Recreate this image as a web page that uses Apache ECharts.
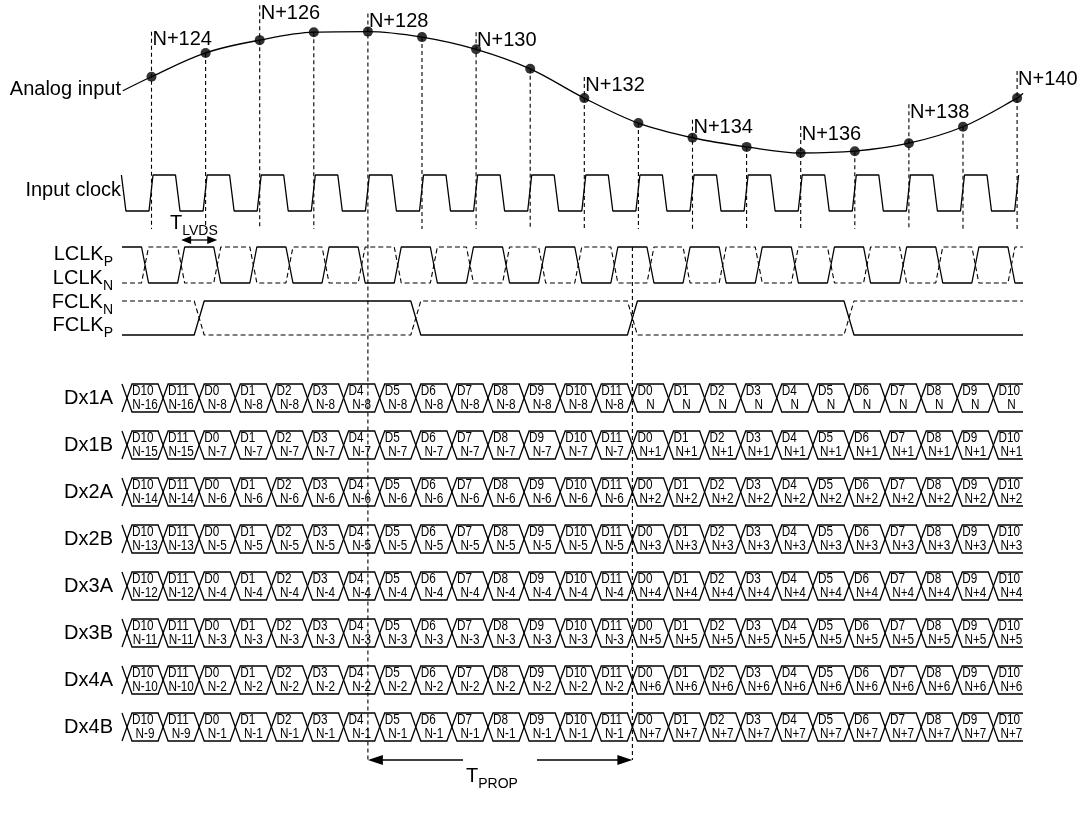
<!DOCTYPE html>
<html><head><meta charset="utf-8"><title>ADC LVDS timing</title>
<script src="https://cdn.jsdelivr.net/npm/echarts@6.0.0/dist/echarts.min.js"></script>
<style>html,body{margin:0;padding:0;background:#fff;}#chart{width:1080px;height:814px;}</style>
</head><body><div id="chart"></div>
<script>
// ================= DATA =================
// analog input amplitude at each sampling instant (N+124 ... N+140), normalised units
const analogSamples = [0.25, 0.64, 0.85, 0.98, 0.99, 0.90, 0.70, 0.38, -0.10, -0.51, -0.75, -0.90, -1.00, -0.97, -0.84, -0.57, -0.10];
// curve lead-in (from the "Analog input" label) and lead-out: [time in sample periods, amplitude]
const analogLeadIn = [-0.53, 0.02];
const analogLeadOut = [16.11, -0.02];
// tags written above every second sample
const sampleTags = ['N+124', 'N+126', 'N+128', 'N+130', 'N+132', 'N+134', 'N+136', 'N+138', 'N+140'];
// serial data lanes
const laneNames = ['Dx1A', 'Dx1B', 'Dx2A', 'Dx2B', 'Dx3A', 'Dx3B', 'Dx4A', 'Dx4B'];
// bit carried in every serial bit slot
const bitNames = ['D10', 'D11', 'D0', 'D1', 'D2', 'D3', 'D4', 'D5', 'D6', 'D7', 'D8', 'D9', 'D10', 'D11',
                  'D0', 'D1', 'D2', 'D3', 'D4', 'D5', 'D6', 'D7', 'D8', 'D9', 'D10'];
// which frame (column of laneFrameSamples) each bit slot belongs to
const bitFrame = [0, 0, 1, 1, 1, 1, 1, 1, 1, 1, 1, 1, 1, 1, 2, 2, 2, 2, 2, 2, 2, 2, 2, 2, 2];
// sample carried by each lane in each frame
const laneFrameSamples = [
  ['N-16', 'N-8', 'N'], ['N-15', 'N-7', 'N+1'], ['N-14', 'N-6', 'N+2'], ['N-13', 'N-5', 'N+3'],
  ['N-12', 'N-4', 'N+4'], ['N-11', 'N-3', 'N+5'], ['N-10', 'N-2', 'N+6'], ['N-9', 'N-1', 'N+7']
];
// frame clock toggles at these bit-slot boundaries
const fclkToggleBits = [2, 8, 14, 20];
// T_PROP: from sample index to bit-slot boundary ; T_LVDS: between LCLK edges
const tpropFromSample = 4, tpropToBit = 14;
const tlvdsEdges = [1, 2];

// ================= LAYOUT (pixels) =================
const L = {
  x0: 151.5, period: 54.1,            // pixel of sample 0, pixels per sample period
  analogZeroPx: 92, analogUnitPx: 61,
  labelRight1: 121, labelRight2: 113,
  rowStart: 122, rowEnd: 1023,
  bitStart: 127, bitPx: 36.1, slope: 5, lclkSlope: 3.5,
  clkH: 175, clkL: 211, guideBottom: 229,
  lclkH: 247, lclkL: 283, fclkH: 301, fclkL: 335,
  laneTop: 374.5, laneGap: 47, cellHalf: 14,
  tlvdsY: 240, tpropY: 760, tpropGap: [463, 537],
  tagLift: [37, 27, 10, 9, 13, 10, 19, 31, 19],
  labelY: { analog: 89, clock: 190, lclkP: 254, lclkN: 278, fclkN: 302, fclkP: 325 }
};
const FONT = '"Liberation Sans", Arial, Helvetica, sans-serif';
const LW = 1.3;
const CELL = { size: 14, scaleX: 0.84 };

const mctx = document.createElement('canvas').getContext('2d');
function tw(text, size, fam) { mctx.font = size + 'px ' + fam; return mctx.measureText(text).width; }

const px2t = px => (px - L.x0) / L.period;
const dt = px => px / L.period;
const T_MIN = px2t(0), T_MAX = px2t(1080);
const bitT = L.bitPx / L.period;
const crossT = k => px2t(L.bitStart) + k * bitT;
const lclkEdgeT = k => crossT(k) + bitT / 2;
const A_MAX = L.analogZeroPx / L.analogUnitPx;
const A_MIN = (L.analogZeroPx - 814) / L.analogUnitPx;
const pxToAmp = y => (L.analogZeroPx - y) / L.analogUnitPx;

// ---- waveforms built from timing ----
const clockPts = [[-1 + dt(24), L.clkH], [-1 + dt(28.5), L.clkL]];
for (let i = 0; i < analogSamples.length; i++) {
  clockPts.push([i - dt(2.5), L.clkL], [i + dt(1.5), L.clkH]);
  if (i < analogSamples.length - 1) clockPts.push([i + dt(24), L.clkH], [i + dt(28.5), L.clkL]);
}
function lclk(startHigh) {
  let high = startHigh;
  const lv = h => h ? L.lclkH : L.lclkL;
  const pts = [[px2t(L.rowStart), lv(high)]];
  for (let k = 0; k < bitNames.length; k++) {
    const e = lclkEdgeT(k);
    if (e > px2t(L.rowEnd)) break;
    pts.push([e - dt(L.lclkSlope), lv(high)]); high = !high; pts.push([e + dt(L.lclkSlope), lv(high)]);
  }
  pts.push([px2t(L.rowEnd), lv(high)]);
  return pts;
}
function fclk(startHigh) {
  let high = startHigh;
  const lv = h => h ? L.fclkH : L.fclkL;
  const pts = [[px2t(L.rowStart), lv(high)]];
  fclkToggleBits.forEach(k => {
    const e = crossT(k);
    pts.push([e - dt(L.slope), lv(high)]); high = !high; pts.push([e + dt(L.slope), lv(high)]);
  });
  pts.push([px2t(L.rowEnd), lv(high)]);
  return pts;
}

const cellData = [];
for (let l = 0; l < laneNames.length; l++) for (let k = 0; k < bitNames.length; k++) cellData.push([k, l]);

const black = '#000';
function textEl(text, x, y, size, align) {
  return { type: 'text', style: { text: text, x: x, y: y, fill: black, fontSize: size, fontFamily: FONT, align: align, verticalAlign: 'middle' } };
}
function cellText(text, x, y, align) {
  return { type: 'text', x: x, y: y, scaleX: CELL.scaleX,
    style: { text: text, x: 0, y: 0, fill: black, fontSize: CELL.size, fontFamily: FONT, align: align, verticalAlign: 'middle' } };
}
function subText(x, y, main, sub, rightAligned) {
  const ws = tw(sub, 14, FONT), wm = tw(main, 20, FONT);
  if (rightAligned) return [textEl(main, x - ws, y, 20, 'right'), textEl(sub, x - ws, y + 8, 14, 'left')];
  return [textEl(main, x, y, 20, 'left'), textEl(sub, x + wm, y + 8, 14, 'left')];
}
function arrowHead(tipX, y, dir, len, half) {
  return { type: 'polygon', shape: { points: [[tipX, y], [tipX + dir * len, y - half], [tipX + dir * len, y + half]] }, style: { fill: black } };
}
const lineStyleEl = { stroke: black, lineWidth: LW, fill: 'none' };

const chart = echarts.init(document.getElementById('chart'), null, { renderer: 'canvas', width: 1080, height: 814 });

const option = {
  animation: false,
  backgroundColor: '#fff',
  grid: [
    { left: 0, right: 0, top: 0, bottom: 0, containLabel: false, outerBoundsMode: 'none' },
    { left: 0, right: 0, top: L.laneTop, height: L.laneGap * laneNames.length, containLabel: false, outerBoundsMode: 'none' }
  ],
  xAxis: [
    { type: 'value', gridIndex: 0, min: T_MIN, max: T_MAX, show: false },
    { type: 'value', gridIndex: 1, min: T_MIN, max: T_MAX, show: false }
  ],
  yAxis: [
    { type: 'value', gridIndex: 0, min: A_MIN, max: A_MAX, show: false },
    { type: 'value', gridIndex: 0, min: 0, max: 814, inverse: true, show: false },
    {
      type: 'category', gridIndex: 1, data: laneNames, inverse: true, offset: -L.labelRight2,
      axisLine: { show: false }, axisTick: { show: false }, splitLine: { show: false },
      axisLabel: { margin: 0, fontSize: 20, color: black, fontFamily: FONT }
    }
  ],
  series: [
    { // analog input curve
      type: 'line', xAxisIndex: 0, yAxisIndex: 0, silent: true, z: 3,
      data: [analogLeadIn].concat(analogSamples.map((v, i) => [i, v])).concat([analogLeadOut]),
      smooth: 0.35, symbol: 'none', showSymbol: false,
      lineStyle: { color: black, width: LW }
    },
    { // sample dots
      type: 'scatter', xAxisIndex: 0, yAxisIndex: 0, silent: true, z: 5,
      data: analogSamples.map((v, i) => [i, v]), symbolSize: 10, itemStyle: { color: black }
    },
    { // sampling guides + tags
      type: 'custom', xAxisIndex: 0, yAxisIndex: 0, silent: true, z: 2,
      data: analogSamples.map((v, i) => [i, v]),
      renderItem: function (params, api) {
        const i = api.value(0);
        const p = api.coord([i, api.value(1)]);
        const bottomY = i === tpropFromSample ? L.tpropY : L.guideBottom;
        const bottom = api.coord([i, pxToAmp(bottomY)]);
        const children = [];
        let top = p[1];
        if (i % 2 === 0) {
          const ty = p[1] - L.tagLift[i / 2];
          top = ty - 8;
          children.push(textEl(sampleTags[i / 2], p[0] + 1, ty, 20, 'left'));
        }
        children.unshift({ type: 'line', shape: { x1: p[0], y1: top, x2: p[0], y2: bottom[1] },
          style: { stroke: black, lineWidth: 1.1, lineDash: [4, 3] } });
        return { type: 'group', children: children };
      }
    },
    { type: 'line', name: 'Input clock', xAxisIndex: 0, yAxisIndex: 1, data: clockPts, symbol: 'none', silent: true, lineStyle: { color: black, width: LW } },
    { type: 'line', name: 'LCLKP', xAxisIndex: 0, yAxisIndex: 1, data: lclk(true), symbol: 'none', silent: true, lineStyle: { color: black, width: LW } },
    { type: 'line', name: 'LCLKN', xAxisIndex: 0, yAxisIndex: 1, data: lclk(false), symbol: 'none', silent: true, lineStyle: { color: black, width: 1.1, type: [5, 3] } },
    { type: 'line', name: 'FCLKP', xAxisIndex: 0, yAxisIndex: 1, data: fclk(false), symbol: 'none', silent: true, lineStyle: { color: black, width: LW } },
    { type: 'line', name: 'FCLKN', xAxisIndex: 0, yAxisIndex: 1, data: fclk(true), symbol: 'none', silent: true, lineStyle: { color: black, width: 1.1, type: [5, 3] } },
    { // labels and timing annotations
      type: 'custom', xAxisIndex: 0, yAxisIndex: 1, silent: true, z: 6,
      data: [[0, 0]],
      renderItem: function (params, api) {
        const P = (px, y) => api.coord([px2t(px), y]);
        const Y = L.labelY;
        const c = [];
        let q = P(L.labelRight1, Y.analog); c.push(textEl('Analog input', q[0], q[1], 20, 'right'));
        q = P(L.labelRight1, Y.clock); c.push(textEl('Input clock', q[0], q[1], 20, 'right'));
        q = P(L.labelRight2, Y.lclkP); c.push(...subText(q[0], q[1], 'LCLK', 'P', true));
        q = P(L.labelRight2, Y.lclkN); c.push(...subText(q[0], q[1], 'LCLK', 'N', true));
        q = P(L.labelRight2, Y.fclkN); c.push(...subText(q[0], q[1], 'FCLK', 'N', true));
        q = P(L.labelRight2, Y.fclkP); c.push(...subText(q[0], q[1], 'FCLK', 'P', true));
        // T_LVDS
        const a = api.coord([lclkEdgeT(tlvdsEdges[0]), L.tlvdsY]);
        const b = api.coord([lclkEdgeT(tlvdsEdges[1]), L.tlvdsY]);
        c.push({ type: 'line', shape: { x1: a[0] + 6, y1: a[1], x2: b[0] - 6, y2: b[1] }, style: lineStyleEl });
        c.push(arrowHead(a[0], a[1], 1, 10, 4), arrowHead(b[0], b[1], -1, 10, 4));
        q = P(170, 223); c.push(...subText(q[0], q[1], 'T', 'LVDS', false));
        // T_PROP
        const s = api.coord([tpropFromSample, L.tpropY]);
        const e = api.coord([crossT(tpropToBit), L.tpropY]);
        const eTop = api.coord([crossT(tpropToBit), L.lclkH]);
        c.push({ type: 'line', shape: { x1: e[0], y1: eTop[1], x2: e[0], y2: e[1] }, style: { stroke: black, lineWidth: 1.1, lineDash: [4, 3] } });
        const g1 = P(L.tpropGap[0], L.tpropY), g2 = P(L.tpropGap[1], L.tpropY);
        c.push({ type: 'line', shape: { x1: s[0] + 8, y1: s[1], x2: g1[0], y2: g1[1] }, style: lineStyleEl });
        c.push({ type: 'line', shape: { x1: g2[0], y1: g2[1], x2: e[0] - 8, y2: e[1] }, style: lineStyleEl });
        c.push(arrowHead(s[0], s[1], 1, 15, 5), arrowHead(e[0], e[1], -1, 15, 5));
        q = P(L.tpropGap[0] + 3, L.tpropY + 16); c.push(...subText(q[0], q[1], 'T', 'PROP', false));
        return { type: 'group', children: c };
      }
    },
    { // serial data cells
      type: 'custom', xAxisIndex: 1, yAxisIndex: 2, silent: true, z: 4,
      data: cellData, encode: { x: 0, y: 1 },
      renderItem: function (params, api) {
        const k = api.value(0), lane = api.value(1);
        const left = api.coord([crossT(k), lane]);
        const right = api.coord([crossT(k + 1), lane]);
        const xEnd = api.coord([px2t(L.rowEnd), lane])[0];
        const xL = left[0], xR = right[0], yc = left[1], h = L.cellHalf, s = L.slope;
        const ch = [];
        if (xR <= xEnd + 0.5) {
          ch.push({ type: 'polygon', shape: { points: [[xL, yc], [xL + s, yc - h], [xR - s, yc - h], [xR, yc], [xR - s, yc + h], [xL + s, yc + h]] }, style: lineStyleEl });
        } else {
          ch.push({ type: 'polyline', shape: { points: [[xEnd, yc - h], [xL + s, yc - h], [xL, yc], [xL + s, yc + h], [xEnd, yc + h]] }, style: lineStyleEl });
        }
        if (k === 0) ch.push({ type: 'polyline', shape: { points: [[xL - s, yc - h], [xL, yc], [xL - s, yc + h]] }, style: lineStyleEl });
        ch.push(cellText(bitNames[k], xL + 5, yc - 6.5, 'left'));
        ch.push(cellText(laneFrameSamples[lane][bitFrame[k]], (xL + xR) / 2, yc + 7, 'center'));
        return { type: 'group', children: ch };
      }
    }
  ]
};
chart.setOption(option);
</script>
</body></html>
